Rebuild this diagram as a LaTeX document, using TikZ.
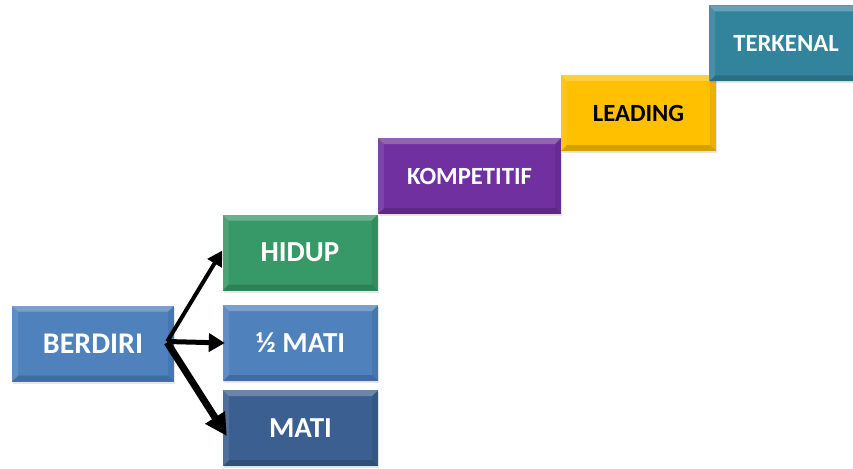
\documentclass[tikz,border=0pt]{standalone}
\usepackage{fontspec}
\setmainfont{Carlito}
\usetikzlibrary{arrows.meta,shadows}
\definecolor{cblue}{HTML}{4F81BD}
\definecolor{cdark}{HTML}{3A5F90}
\definecolor{cgreen}{HTML}{379967}
\definecolor{cpurple}{HTML}{7030A0}
\definecolor{cgold}{HTML}{FFC000}
\definecolor{cteal}{HTML}{31849B}
\tikzset{
  stepbox/.style={rectangle, inner sep=0pt, draw=none, minimum height=76pt,
    font=\fontsize{29}{32}\selectfont\bfseries, text=white,
    drop shadow={opacity=0.2, shadow xshift=1pt, shadow yshift=-2pt},
    path picture={
      \fill[white,opacity=0.25] (path picture bounding box.north west) -- (path picture bounding box.north east)
        -- ([xshift=-6pt,yshift=-6pt]path picture bounding box.north east) -- ([xshift=6pt,yshift=-6pt]path picture bounding box.north west) -- cycle;
      \fill[black,opacity=0.16] (path picture bounding box.south west) -- (path picture bounding box.south east)
        -- ([xshift=-6pt,yshift=6pt]path picture bounding box.south east) -- ([xshift=6pt,yshift=6pt]path picture bounding box.south west) -- cycle;
      \fill[white,opacity=0.1] (path picture bounding box.north west) -- (path picture bounding box.south west)
        -- ([xshift=6pt,yshift=6pt]path picture bounding box.south west) -- ([xshift=6pt,yshift=-6pt]path picture bounding box.north west) -- cycle;
      \fill[black,opacity=0.08] (path picture bounding box.north east) -- (path picture bounding box.south east)
        -- ([xshift=-6pt,yshift=6pt]path picture bounding box.south east) -- ([xshift=-6pt,yshift=-6pt]path picture bounding box.north east) -- cycle;
    }},
  smalltext/.style={font=\fontsize{24.7}{28}\selectfont\bfseries},
  conn/.style={black, -{Triangle[length=15pt,width=16pt]}}
}
\begin{document}
\begin{tikzpicture}[x=1pt,y=-1pt]
\useasboundingbox (0,0) rectangle (853,468);
\clip (0,0) rectangle (853,468);
\node[stepbox, fill=cblue, minimum width=162pt, font=\fontsize{30}{33}\selectfont\bfseries] (berdiri) at (93,343.5) {BERDIRI};
\node[stepbox, fill=cgreen, minimum width=155pt] (hidup) at (300,252.5) {HIDUP};
\node[stepbox, fill=cblue, minimum width=155pt] (half) at (300.5,343) {½ MATI};
\node[stepbox, fill=cdark, minimum width=155pt] (mati) at (300.5,428) {MATI};
\node[stepbox, smalltext, fill=cpurple, minimum width=183pt] (komp) at (469.5,176) {KOMPETITIF};
\node[stepbox, smalltext, fill=cgold, minimum width=155pt, text=black] (leading) at (638.5,113) {LEADING};
\node[stepbox, smalltext, fill=cteal, minimum width=154pt] (terkenal) at (786,43.5) {TERKENAL};
\coordinate (src) at ([xshift=-7pt,yshift=2pt]berdiri.east);
\draw[conn, line width=4pt] (src) -- ([yshift=2pt]hidup.west);
\draw[conn, line width=5pt, -{Triangle[length=16pt,width=18pt]}] (src) -- ([xshift=2pt]half.west);
\draw[conn, line width=7pt, -{Triangle[length=22pt,width=22pt]}] ([yshift=-1pt]src) -- ([xshift=4pt,yshift=-8pt]mati.west);
\end{tikzpicture}
\end{document}
